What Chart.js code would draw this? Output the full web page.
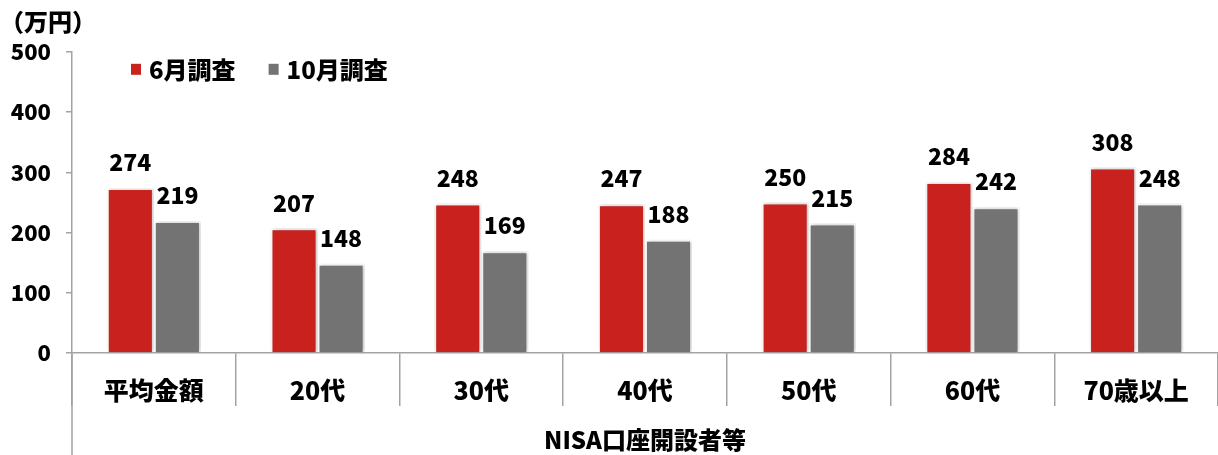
<!DOCTYPE html>
<html>
<head>
<meta charset="utf-8">
<script src="https://cdn.jsdelivr.net/npm/chart.js@4"></script>
<style>
  html, body { margin: 0; padding: 0; background: #fff; }
  #wrap { width: 1218px; height: 455px; }
</style>
</head>
<body>
<div id="wrap"><canvas id="nisaChart"></canvas></div>
<script>
// 年代別 NISA口座の平均保有額（万円）
var categories = ['平均金額', '20代', '30代', '40代', '50代', '60代', '70歳以上'];
var juneValues = [274, 207, 248, 247, 250, 284, 308];
var octValues = [219, 148, 169, 188, 215, 242, 248];
var seriesNames = ['6月調査', '10月調査'];
var barColors = ['#C9211E', '#737373'];
var yTicks = [0, 100, 200, 300, 400, 500];

var FONT = "'Noto Sans CJK JP', sans-serif";
var W = '900';
var axisGray = '#A3A3A3';

// soft shadow round the bars
var barShadow = {
  id: 'barShadow',
  beforeDatasetsDraw: function (chart) {
    var ctx = chart.ctx;
    ctx.save();
    ctx.shadowColor = 'rgba(0,0,0,0.28)';
    ctx.shadowBlur = 4;
    ctx.shadowOffsetX = 1;
    ctx.shadowOffsetY = 0;
  },
  afterDatasetsDraw: function (chart) {
    chart.ctx.restore();
  }
};

// value labels above each bar
var valueLabels = {
  id: 'valueLabels',
  afterDatasetsDraw: function (chart) {
    var ctx = chart.ctx;
    ctx.save();
    ctx.font = W + ' 23px ' + FONT;
    ctx.fillStyle = '#000';
    ctx.textAlign = 'center';
    ctx.textBaseline = 'bottom';
    chart.data.datasets.forEach(function (ds, i) {
      chart.getDatasetMeta(i).data.forEach(function (bar, j) {
        ctx.fillText(ds.data[j], bar.x, bar.y - 14);
      });
    });
    ctx.restore();
  }
};

// legend inside the plot, top left
var innerLegend = {
  id: 'innerLegend',
  afterDraw: function (chart) {
    var ctx = chart.ctx;
    var x = chart.chartArea.left + 59;
    var y = chart.chartArea.top + 17;
    ctx.save();
    ctx.font = W + ' 24px ' + FONT;
    ctx.textBaseline = 'middle';
    ctx.textAlign = 'left';
    seriesNames.forEach(function (name, i) {
      ctx.fillStyle = barColors[i];
      ctx.fillRect(x, y - 5, 10, 11);
      ctx.fillStyle = '#000';
      ctx.fillText(name, x + 18, y + 1);
      x += 18 + ctx.measureText(name).width + 33;
    });
    ctx.restore();
  }
};

// the y axis line runs on down through the category band
var axisDown = {
  id: 'axisDown',
  afterDraw: function (chart) {
    var ctx = chart.ctx;
    var x = chart.chartArea.left;
    ctx.save();
    ctx.strokeStyle = axisGray;
    ctx.lineWidth = 1.5;
    ctx.beginPath();
    ctx.moveTo(x, chart.chartArea.bottom);
    ctx.lineTo(x, chart.height);
    ctx.stroke();
    ctx.restore();
  }
};

new Chart(document.getElementById('nisaChart'), {
  type: 'bar',
  data: {
    labels: categories,
    datasets: [{
      label: seriesNames[0],
      data: juneValues,
      backgroundColor: barColors[0],
      borderColor: '#fff',
      borderWidth: 2,
      barPercentage: 1.0,
      categoryPercentage: 0.575
    }, {
      label: seriesNames[1],
      data: octValues,
      backgroundColor: barColors[1],
      borderColor: '#fff',
      borderWidth: 2,
      barPercentage: 1.0,
      categoryPercentage: 0.575
    }]
  },
  options: {
    responsive: true,
    maintainAspectRatio: false,
    animation: false,
    layout: { padding: { left: 0, right: 0, top: 0, bottom: 0 } },
    plugins: {
      legend: { display: false },
      tooltip: { enabled: false },
      title: {
        display: true,
        text: '（万円）',
        align: 'start',
        color: '#000',
        font: { family: FONT, size: 24, weight: W, lineHeight: 1.2 },
        padding: { top: 7, bottom: 16 }
      }
    },
    scales: {
      x: {
        grid: {
          display: true,
          offset: true,
          drawOnChartArea: false,
          tickLength: 53,
          color: axisGray,
          lineWidth: 1.5
        },
        border: { color: axisGray, width: 1.5 },
        ticks: {
          color: '#000',
          padding: -31,
          maxRotation: 0,
          font: { family: FONT, size: 25, weight: W }
        },
        title: {
          display: true,
          text: 'NISA口座開設者等',
          color: '#000',
          font: { family: FONT, size: 24, weight: W, lineHeight: 1.2 },
          padding: { top: 0, bottom: 1 }
        },
        afterFit: function (scale) { scale.height = 102; }
      },
      y: {
        min: 0,
        max: 500,
        afterBuildTicks: function (scale) {
          scale.ticks = yTicks.map(function (v) { return { value: v }; });
        },
        grid: {
          drawOnChartArea: false,
          tickLength: 6,
          color: axisGray,
          lineWidth: 1.5
        },
        border: { color: axisGray, width: 1.5 },
        ticks: {
          color: '#000',
          padding: 15,
          font: { family: FONT, size: 22, weight: W }
        },
        afterFit: function (scale) { scale.width = 72; }
      }
    }
  },
  plugins: [barShadow, valueLabels, innerLegend, axisDown]
});
</script>
</body>
</html>
